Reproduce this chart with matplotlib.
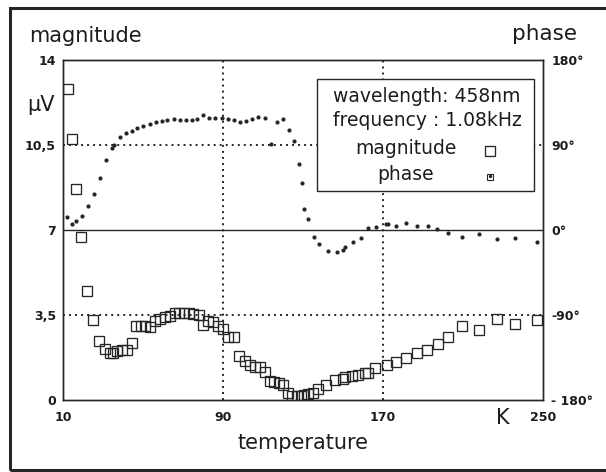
import matplotlib
matplotlib.use("Agg")
import matplotlib.pyplot as plt
from matplotlib.lines import Line2D
from matplotlib.patches import Rectangle

# ---------------- data ----------------
temp_mag = [12.3, 14.7, 16.5, 19.2, 22.2, 25.2, 28, 31.2, 33.5, 35.2, 37.2, 39.5, 42,
            44.3, 46.7, 49, 51.2, 53.3, 56.2, 58.5, 61.2, 63.5, 65.8, 68.2, 70.5, 72.8,
            75.2, 77.8, 80.2, 82.5, 84.8, 87.7, 89.8, 92.7, 95.7, 98.2, 101, 103.5, 106,
            108.5, 111, 113.3, 115.7, 118, 120.2, 122.7, 124.5, 126.8, 129, 130.5, 132.7,
            135.2, 137.7, 141.5, 146, 150.2, 150.8, 154.3, 157.7, 161, 162.7, 166, 171.8,
            176.5, 181.3, 186.8, 191.8, 197.3, 202.7, 209.7, 218, 226.8, 236, 247.2]
magnitude = [12.79, 10.76, 8.69, 6.70, 4.49, 3.29, 2.44, 2.10, 1.95, 1.95, 2.0, 2.05, 2.05,
             2.36, 3.05, 3.06, 3.05, 2.99, 3.26, 3.32, 3.40, 3.47, 3.57, 3.59, 3.59, 3.58,
             3.54, 3.49, 3.10, 3.26, 3.21, 3.06, 2.92, 2.61, 2.58, 1.81, 1.59, 1.43, 1.37,
             1.37, 1.15, 0.78, 0.74, 0.69, 0.62, 0.30, 0.18, 0.17, 0.18, 0.20, 0.23,
             0.30, 0.44, 0.62, 0.82, 0.86, 0.93, 0.99, 1.03, 1.12, 1.12, 1.30, 1.44,
             1.58, 1.74, 1.92, 2.06, 2.29, 2.61, 3.05, 2.88, 3.32, 3.13, 3.29]

temp_phase = [11.8, 14.3, 16.5, 19.3, 22.5, 25.3, 28.5, 31.5, 34.3, 35.7, 38.5, 41.3, 44.3,
              47.2, 50.2, 53.5, 56.3, 59.3, 62.2, 65.5, 68.5, 71.3, 74.3, 77.2, 80.2, 83,
              86, 89.7, 92.7, 95.7, 98.5, 101.3, 104.3, 107.7, 111, 113.8, 116.8, 119.8,
              122.8, 125.5, 128, 129.3, 130.5, 132.7, 135.7, 138.2, 142.3, 147.2, 149.8,
              151, 155.2, 159, 162.3, 166.5, 171.5, 172.6, 176.5, 181.5, 186.8, 192.3,
              197.2, 202.3, 209.7, 218, 227.2, 236, 247.2]
phase = [13.4, 6.3, 9.9, 15.2, 25.8, 38.1, 55.4, 74.1, 86.5, 89.6, 98.8, 102.4, 105.2,
         108.3, 110.4, 112.6, 114, 115.1, 116.2, 117.2, 116.8, 116.8, 116.8, 117.5, 121.4,
         118.6, 118.6, 118.9, 117.2, 116.5, 114.7, 115.1, 117.5, 119.3, 118.9, 91.5, 114.7,
         117.2, 106.3, 93.8, 69.5, 49.4, 21.9, 11.3, -7.1, -15.2, -21.9, -22.9, -21.2,
         -18.4, -12.4, -8.8, 1.8, 2.8, 6.4, 6.0, 4.6, 7.1, 4.6, 4.6,
         1.1, -3.5, -7.1, -4.6, -9.9, -8.1, -12.7]

x_ticks = [10, 90, 170, 250]
x_tick_labels = ["10", "90", "170", "250"]
mag_ticks = [0, 3.5, 7, 10.5, 14]
mag_tick_labels = ["0", "3,5", "7", "10,5", "14"]
phase_ticks = [-180, -90, 0, 90, 180]
phase_tick_labels = ["- 180°", "-90°", "0°", "90°", "180°"]
legend_title = ["wavelength: 458nm", "frequency : 1.08kHz"]
series_names = ["magnitude", "phase"]

# ---------------- styling ----------------
INK = "#262626"
TXT = "#1c1c1c"
W, H = 606, 472
plt.rcParams["font.family"] = ["DejaVu Sans"]

def fx(px):
    return px / W

def fy(py):
    return 1 - py / H

fig = plt.figure(figsize=(W / 100, H / 100), dpi=100)
fig.patch.set_facecolor("white")

ax = fig.add_axes([fx(63), fy(400), 480 / W, 340 / H])
ax.set_xlim(10, 250)
ax.set_ylim(0, 14)
ax2 = ax.twinx()
ax2.set_ylim(-180, 180)

for a in (ax, ax2):
    for s in a.spines.values():
        s.set_color(INK)
        s.set_linewidth(1.0)

dot = dict(color=INK, linewidth=1.4, linestyle=(0, (1, 2.1)), dash_capstyle="butt", zorder=1)
ax.axhline(10.5, **dot)
ax.axhline(3.5, **dot)
ax.axvline(90, **dot)
ax.axvline(170, **dot)
ax.axhline(7, color=INK, linewidth=1.0, zorder=1)

ax.plot(temp_mag, magnitude, linestyle="none", marker="s", markersize=7.0,
        markerfacecolor="none", markeredgecolor=INK, markeredgewidth=0.95, zorder=3)
ax2.plot(temp_phase, phase, linestyle="none", marker="o", markersize=3.0,
         markerfacecolor=INK, markeredgecolor=INK, markeredgewidth=0, zorder=3)

tick_font = dict(fontsize=9, fontweight="bold", color=TXT)
ax.set_xticks(x_ticks)
ax.set_xticklabels(x_tick_labels, **tick_font)
ax.set_yticks(mag_ticks)
ax.set_yticklabels(mag_tick_labels, **tick_font)
ax2.set_yticks(phase_ticks)
ax2.set_yticklabels(phase_tick_labels, **tick_font)
ax.tick_params(axis="x", length=0, pad=8)
ax.tick_params(axis="y", length=0, pad=5)
ax2.tick_params(axis="y", length=0, pad=6)

# axis titles
fig.text(fx(29), fy(36), "magnitude", ha="left", va="center", fontsize=15, color=TXT)
fig.text(fx(577), fy(34), "phase", ha="right", va="center", fontsize=15.5, color=TXT)
fig.text(fx(41), fy(105), "µV", ha="center", va="center", fontsize=15, color=TXT)
fig.text(fx(303.5), fy(443), "temperature", ha="center", va="center", fontsize=15, color=TXT)
fig.text(fx(503), fy(418), "K", ha="center", va="center", fontsize=15, color=TXT)

# legend box
fig.patches.append(Rectangle((fx(317), fy(191)), (534 - 317) / W, (191 - 79) / H,
                             transform=fig.transFigure, facecolor="white",
                             edgecolor=INK, linewidth=1.0, zorder=5))
fig.text(fx(427), fy(97), legend_title[0], ha="center", va="center", fontsize=13.5,
         color=TXT, zorder=6)
fig.text(fx(427), fy(121), legend_title[1], ha="center", va="center", fontsize=13.5,
         color=TXT, zorder=6)
fig.text(fx(406), fy(148), series_names[0], ha="center", va="center", fontsize=13.5,
         color=TXT, zorder=6)
fig.text(fx(406), fy(174), series_names[1], ha="center", va="center", fontsize=13.5,
         color=TXT, zorder=6)
fig.lines.append(Line2D([fx(490)], [fy(151)], transform=fig.transFigure, marker="s",
                        markersize=7.0, markerfacecolor="none", markeredgecolor=INK,
                        markeredgewidth=0.95, linestyle="none", zorder=6))
fig.lines.append(Line2D([fx(490)], [fy(177)], transform=fig.transFigure, marker="s",
                        markersize=5, markerfacecolor="none", markeredgecolor=INK,
                        markeredgewidth=0.8, linestyle="none", zorder=6))
fig.lines.append(Line2D([fx(490)], [fy(176)], transform=fig.transFigure, marker="o",
                        markersize=2.4, markerfacecolor=INK, markeredgewidth=0,
                        linestyle="none", zorder=7))

# outer frame
fig.patches.append(Rectangle((fx(10), fy(470)), (608 - 10) / W, (470 - 8) / H,
                             transform=fig.transFigure, facecolor="none",
                             edgecolor=INK, linewidth=2.2, zorder=0))

fig.savefig("out.png", dpi=100, facecolor="white")
